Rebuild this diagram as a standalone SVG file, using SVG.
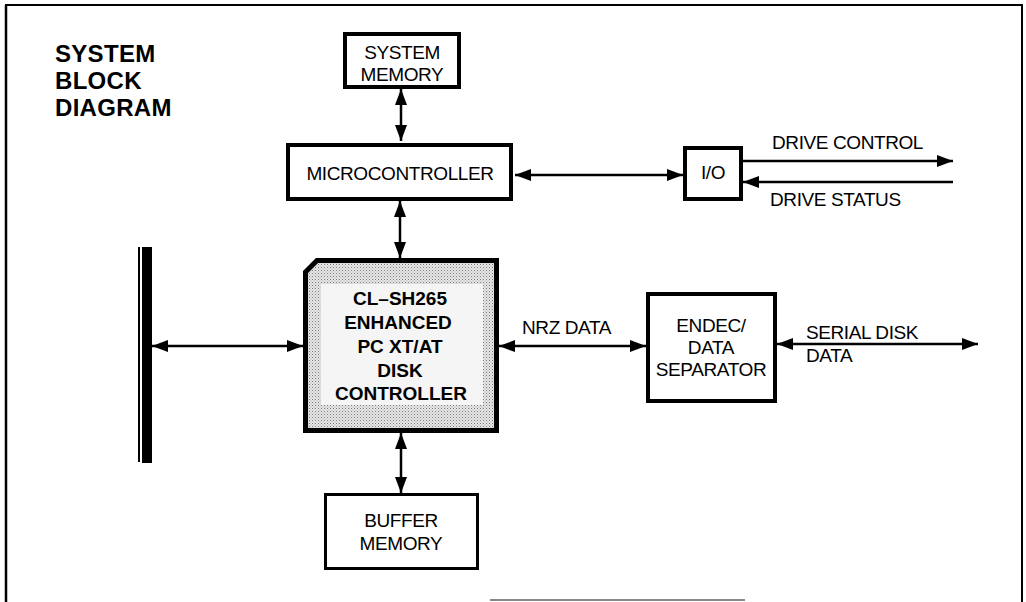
<svg xmlns="http://www.w3.org/2000/svg" width="1026" height="602" viewBox="0 0 1026 602">
<style>
  .box { fill: #ffffff; stroke: #000; stroke-width: 4; }
  .t { font-family: "Liberation Sans", Arial, sans-serif; font-size: 19px; fill: #000; letter-spacing: -0.4px; }
  .tb { font-family: "Liberation Sans", Arial, sans-serif; font-size: 19px; font-weight: bold; fill: #000; }
  .title { font-family: "Liberation Sans", Arial, sans-serif; font-size: 24px; font-weight: bold; fill: #000; letter-spacing: 0.3px; }
  .mid { text-anchor: middle; }
  .conn line { stroke: #000; stroke-width: 2.5; }
</style>
<defs>
  <marker id="ah" viewBox="0 0 16 12" refX="16" refY="6" markerWidth="16" markerHeight="12" markerUnits="userSpaceOnUse" orient="auto-start-reverse">
    <path d="M0,0 L16,6 L0,12 z" fill="#000"/>
  </marker>
  <pattern id="stipple" width="3" height="3" patternUnits="userSpaceOnUse">
    <rect width="3" height="3" fill="#e6e6e6"/>
    <rect width="1" height="1" fill="#7a7a7a"/>
    <rect x="1.5" y="1.5" width="1" height="1" fill="#a8a8a8"/>
  </pattern>
</defs>
<rect width="1026" height="602" fill="#fff"/>

<g id="frame" fill="none" stroke="#000" stroke-width="2">
  <line x1="6" y1="5" x2="6" y2="602" stroke-width="2.5"/>
  <line x1="5" y1="5" x2="1023" y2="5"/>
  <line x1="1022" y1="5" x2="1022" y2="602"/>
  <line x1="490" y1="600" x2="745" y2="600" stroke="#888"/>
</g>

<g id="title">
  <text class="title" x="55" y="62">SYSTEM</text>
  <text class="title" x="55" y="89">BLOCK</text>
  <text class="title" x="55" y="116">DIAGRAM</text>
</g>

<g id="system-memory">
  <rect class="box" x="345" y="34" width="114" height="53"/>
  <text class="t mid" x="402" y="59">SYSTEM</text>
  <text class="t mid" x="402" y="81">MEMORY</text>
</g>

<g id="microcontroller">
  <rect class="box" x="288" y="145" width="223" height="54"/>
  <text class="t mid" x="400" y="180">MICROCONTROLLER</text>
</g>

<g id="io">
  <rect class="box" x="685" y="148" width="56" height="51"/>
  <text class="t mid" x="713" y="179">I/O</text>
</g>

<g id="bus">
  <rect x="138" y="247" width="2" height="215" fill="#000"/>
  <rect x="142" y="247" width="10" height="216" fill="#000"/>
</g>

<g id="controller">
  <path d="M305.5,272 L317,260.5 L496.5,260.5 L496.5,430.5 L305.5,430.5 Z" fill="url(#stipple)" stroke="#000" stroke-width="5"/>
  <rect x="321" y="284" width="162" height="121" fill="#f5f5f5"/>
  <text class="tb mid" x="400" y="305">CL–SH265</text>
  <text class="tb mid" x="398" y="329">ENHANCED</text>
  <text class="tb mid" x="400" y="353">PC XT/AT</text>
  <text class="tb mid" x="400" y="377">DISK</text>
  <text class="tb mid" x="401" y="400">CONTROLLER</text>
</g>

<g id="endec">
  <rect class="box" x="648" y="294" width="127" height="107"/>
  <text class="t mid" x="711" y="332">ENDEC/</text>
  <text class="t mid" x="711" y="354">DATA</text>
  <text class="t mid" x="711" y="376">SEPARATOR</text>
</g>

<g id="buffer-memory">
  <rect x="325.5" y="494.5" width="152" height="74" fill="#fff" stroke="#000" stroke-width="3"/>
  <text class="t mid" x="401" y="527">BUFFER</text>
  <text class="t mid" x="401" y="550">MEMORY</text>
</g>

<g id="connectors" class="conn">
  <line x1="401" y1="89" x2="401" y2="141" marker-start="url(#ah)" marker-end="url(#ah)"/>
  <line x1="400" y1="201" x2="400" y2="258" marker-start="url(#ah)" marker-end="url(#ah)"/>
  <line x1="401" y1="433" x2="401" y2="493" marker-start="url(#ah)" marker-end="url(#ah)"/>
  <line x1="515" y1="175" x2="683" y2="175" marker-start="url(#ah)" marker-end="url(#ah)"/>
  <line x1="743" y1="161" x2="953" y2="161" marker-end="url(#ah)"/>
  <line x1="953" y1="182" x2="743" y2="182" marker-end="url(#ah)"/>
  <line x1="152" y1="346" x2="303" y2="346" marker-start="url(#ah)" marker-end="url(#ah)"/>
  <line x1="499" y1="346" x2="646" y2="346" marker-start="url(#ah)" marker-end="url(#ah)"/>
  <line x1="777" y1="344" x2="978" y2="344" marker-start="url(#ah)" marker-end="url(#ah)"/>
</g>

<g id="labels">
  <text class="t" x="772" y="149">DRIVE CONTROL</text>
  <text class="t" x="770" y="206">DRIVE STATUS</text>
  <text class="t" x="522" y="334">NRZ DATA</text>
  <text class="t" x="806" y="339">SERIAL DISK</text>
  <text class="t" x="806" y="362">DATA</text>
</g>
</svg>
